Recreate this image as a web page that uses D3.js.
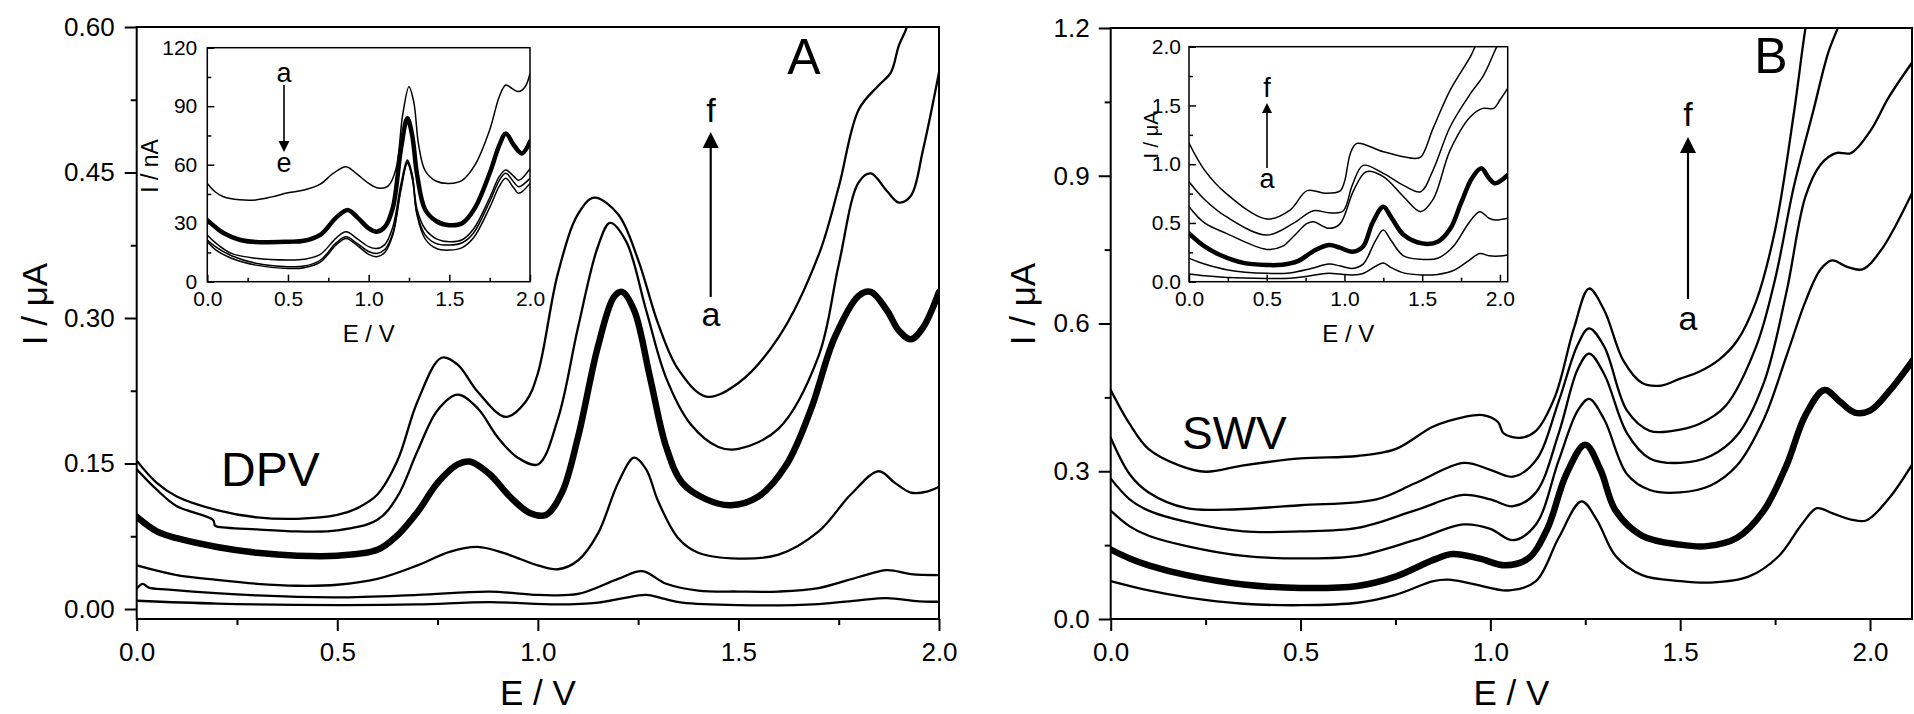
<!DOCTYPE html>
<html>
<head>
<meta charset="utf-8">
<script src="https://cdn.jsdelivr.net/npm/d3@7"></script>
<style>
  html, body { margin: 0; padding: 0; background: #fff; }
  svg { display: block; }
  text { font-family: "Liberation Sans", Arial, Helvetica, sans-serif; fill: #000; }
</style>
</head>
<body>
<svg id="fig" width="1914" height="714"></svg>
<script>
// ---------------- Panel A: DPV, I / µA vs E / V, curves a..f ----------------
const dpvA = [[0,0.0085],[0.2,0.0056],[0.5,0.004],[0.7,0.0047],[0.88,0.007],[1.05,0.0047],[1.15,0.0066],[1.21,0.011],[1.27,0.0145],[1.31,0.011],[1.36,0.0066],[1.5,0.004],[1.7,0.005],[1.8,0.009],[1.87,0.0113],[1.95,0.0078],[2.0,0.0075]];
const dpvB = [[0,0.021],[0.015,0.026],[0.03,0.022],[0.08,0.02],[0.3,0.014],[0.5,0.012],[0.7,0.0146],[0.88,0.018],[1.0,0.0146],[1.1,0.0155],[1.2,0.031],[1.26,0.039],[1.32,0.026],[1.4,0.019],[1.5,0.018],[1.6,0.018],[1.7,0.0216],[1.8,0.033],[1.87,0.040],[1.93,0.036],[2.0,0.035]];
const dpvC = [[0,0.045],[0.1,0.035],[0.2,0.030],[0.3,0.026],[0.4,0.024],[0.5,0.025],[0.6,0.031],[0.7,0.045],[0.78,0.059],[0.85,0.064],[0.92,0.057],[1.0,0.045],[1.05,0.041],[1.1,0.05],[1.15,0.078],[1.2,0.13],[1.24,0.156],[1.27,0.144],[1.3,0.111],[1.35,0.073],[1.4,0.058],[1.5,0.052],[1.6,0.056],[1.7,0.08],[1.78,0.118],[1.85,0.142],[1.89,0.13],[1.93,0.12],[1.97,0.121],[2.0,0.126]];
const dpvD = [[0,0.095],[0.05,0.080],[0.1,0.073],[0.2,0.064],[0.3,0.058],[0.4,0.055],[0.5,0.055],[0.6,0.061],[0.65,0.076],[0.7,0.10],[0.75,0.13],[0.8,0.149],[0.83,0.152],[0.88,0.139],[0.93,0.116],[0.98,0.099],[1.02,0.097],[1.06,0.12],[1.1,0.177],[1.15,0.271],[1.19,0.322],[1.21,0.327],[1.24,0.308],[1.28,0.238],[1.32,0.167],[1.36,0.130],[1.42,0.113],[1.48,0.107],[1.55,0.116],[1.62,0.149],[1.68,0.205],[1.74,0.280],[1.8,0.323],[1.83,0.327],[1.87,0.308],[1.9,0.287],[1.93,0.278],[1.96,0.290],[2.0,0.327]];
const dpvE = [[0,0.144],[0.05,0.123],[0.1,0.106],[0.19,0.092],[0.195,0.086],[0.2,0.085],[0.3,0.082],[0.4,0.080],[0.5,0.081],[0.6,0.092],[0.65,0.116],[0.7,0.163],[0.75,0.205],[0.8,0.221],[0.85,0.207],[0.9,0.177],[0.95,0.156],[1.0,0.149],[1.05,0.196],[1.1,0.29],[1.15,0.374],[1.18,0.398],[1.22,0.379],[1.27,0.308],[1.32,0.238],[1.38,0.191],[1.45,0.167],[1.5,0.165],[1.6,0.186],[1.7,0.261],[1.75,0.355],[1.8,0.44],[1.83,0.449],[1.87,0.431],[1.9,0.419],[1.93,0.426],[1.96,0.473],[2.0,0.553]];
const dpvF = [[0,0.153],[0.05,0.130],[0.1,0.116],[0.2,0.102],[0.3,0.0945],[0.4,0.093],[0.5,0.097],[0.55,0.104],[0.6,0.118],[0.65,0.153],[0.7,0.214],[0.76,0.259],[0.8,0.252],[0.85,0.224],[0.92,0.198],[0.97,0.214],[1.0,0.243],[1.05,0.346],[1.1,0.407],[1.14,0.424],[1.2,0.407],[1.25,0.360],[1.3,0.294],[1.35,0.247],[1.42,0.219],[1.5,0.233],[1.6,0.280],[1.7,0.365],[1.75,0.435],[1.8,0.515],[1.85,0.540],[1.88,0.553],[1.9,0.581],[1.92,0.600],[1.94,0.64]];
const dpvSeries = [dpvA, dpvB, dpvC, dpvD, dpvE, dpvF];
const dpvYTicks = [0, 0.15, 0.30, 0.45, 0.60];
const dpvYLabels = ["0.00", "0.15", "0.30", "0.45", "0.60"];

// Panel A inset: I / nA vs E / V, curves a..e
const dpvInA = [[0,50.4],[0.05,46],[0.1,43.6],[0.2,42],[0.3,41.9],[0.4,43.5],[0.5,45.6],[0.6,47],[0.7,50],[0.78,55.5],[0.86,59],[0.93,55],[1.0,50.4],[1.06,48],[1.12,49],[1.17,58],[1.21,85],[1.25,100],[1.28,92],[1.31,70],[1.35,57],[1.42,51.5],[1.5,50.4],[1.58,52],[1.66,60],[1.75,77.8],[1.81,95],[1.85,100.9],[1.89,99],[1.93,97.5],[1.97,100],[2.0,106.8]];
const dpvInB = [[0,31.6],[0.05,28],[0.1,25],[0.2,21.5],[0.3,20.3],[0.5,20.5],[0.6,21],[0.7,24],[0.8,33],[0.87,36.8],[0.93,33],[1.0,27.4],[1.05,25.6],[1.1,28],[1.15,38],[1.2,68],[1.24,83.8],[1.27,75],[1.3,55],[1.35,37],[1.42,31],[1.5,29],[1.58,30],[1.66,38],[1.75,55.6],[1.81,70],[1.85,76],[1.9,70],[1.95,65.8],[2.0,71.8]];
const dpvInC = [[0,24],[0.05,20],[0.15,14.5],[0.3,12],[0.5,11.1],[0.6,11.5],[0.7,14],[0.8,22.5],[0.86,25.6],[0.93,22],[1.0,18],[1.05,17],[1.1,19],[1.15,28],[1.2,50],[1.24,62.4],[1.27,55],[1.3,37],[1.35,27],[1.42,22],[1.5,20.5],[1.58,21.5],[1.65,27],[1.75,43],[1.81,54],[1.85,57.3],[1.9,54],[1.93,52],[2.0,58]];
const dpvInD = [[0,21.4],[0.05,18],[0.15,13.3],[0.3,9.5],[0.5,7.7],[0.6,8],[0.7,11],[0.8,20],[0.86,23],[0.93,19.5],[1.0,15.5],[1.05,14.5],[1.1,16.5],[1.15,25],[1.2,48],[1.24,61.5],[1.27,54],[1.3,35],[1.35,24],[1.42,19.5],[1.5,18.8],[1.58,20],[1.65,25],[1.75,41],[1.81,52],[1.85,55.6],[1.9,51],[1.93,48.7],[2.0,53]];
const dpvInE = [[0,20.5],[0.05,16.5],[0.15,12],[0.3,8.5],[0.5,6.8],[0.6,7.2],[0.7,10],[0.8,19],[0.86,22.2],[0.93,18.5],[1.0,14],[1.05,12.8],[1.1,15],[1.15,24],[1.2,47],[1.24,60.7],[1.27,53],[1.3,34],[1.35,22],[1.42,17],[1.5,16.2],[1.58,17.5],[1.65,22.5],[1.75,38],[1.81,49],[1.85,53],[1.9,48],[1.93,45.3],[2.0,50.4]];
const dpvInSeries = [dpvInA, dpvInB, dpvInC, dpvInD, dpvInE];
const dpvInYTicks = [0, 30, 60, 90, 120];
const dpvInYLabels = ["0", "30", "60", "90", "120"];

// ---------------- Panel B: SWV, I / µA vs E / V, curves a..f ----------------
const swvA = [[0,0.077],[0.1,0.058],[0.2,0.044],[0.35,0.031],[0.5,0.028],[0.65,0.033],[0.75,0.049],[0.85,0.077],[0.89,0.08],[0.95,0.072],[1.05,0.058],[1.12,0.077],[1.18,0.165],[1.24,0.239],[1.28,0.202],[1.33,0.128],[1.4,0.089],[1.5,0.077],[1.58,0.074],[1.68,0.086],[1.76,0.128],[1.82,0.192],[1.86,0.225],[1.9,0.215],[1.95,0.202],[1.99,0.20],[2.05,0.245],[2.12,0.325]];
const swvB = [[0,0.141],[0.05,0.123],[0.1,0.109],[0.2,0.089],[0.35,0.07],[0.5,0.063],[0.65,0.067],[0.75,0.086],[0.85,0.12],[0.9,0.132],[0.97,0.123],[1.04,0.109],[1.1,0.123],[1.15,0.183],[1.2,0.294],[1.25,0.354],[1.29,0.303],[1.33,0.22],[1.4,0.169],[1.5,0.151],[1.57,0.148],[1.65,0.165],[1.72,0.22],[1.78,0.312],[1.83,0.414],[1.88,0.465],[1.92,0.442],[1.96,0.419],[2.0,0.423],[2.05,0.462],[2.12,0.533]];
const swvC = [[0,0.22],[0.05,0.188],[0.1,0.169],[0.2,0.148],[0.35,0.128],[0.5,0.123],[0.65,0.128],[0.8,0.16],[0.93,0.192],[1.0,0.183],[1.06,0.16],[1.12,0.192],[1.18,0.322],[1.23,0.423],[1.26,0.447],[1.3,0.405],[1.36,0.294],[1.42,0.262],[1.5,0.257],[1.58,0.271],[1.65,0.312],[1.72,0.405],[1.78,0.534],[1.83,0.645],[1.87,0.71],[1.9,0.728],[1.94,0.715],[1.98,0.71],[2.03,0.75],[2.12,0.88]];
const swvD = [[0,0.285],[0.05,0.243],[0.1,0.22],[0.2,0.197],[0.35,0.178],[0.5,0.178],[0.65,0.185],[0.8,0.22],[0.93,0.252],[1.0,0.243],[1.06,0.229],[1.12,0.257],[1.18,0.377],[1.23,0.507],[1.26,0.539],[1.3,0.497],[1.36,0.377],[1.42,0.326],[1.5,0.317],[1.58,0.331],[1.65,0.373],[1.72,0.479],[1.78,0.664],[1.83,0.858],[1.87,0.923],[1.91,0.946],[1.95,0.946],[2.0,0.99],[2.05,1.06],[2.12,1.14]];
const swvE = [[0,0.368],[0.05,0.294],[0.1,0.257],[0.2,0.225],[0.3,0.222],[0.5,0.231],[0.7,0.243],[0.8,0.275],[0.93,0.317],[1.0,0.303],[1.06,0.289],[1.12,0.322],[1.18,0.442],[1.23,0.557],[1.26,0.59],[1.3,0.553],[1.36,0.423],[1.42,0.382],[1.48,0.382],[1.55,0.396],[1.62,0.433],[1.7,0.553],[1.75,0.69],[1.8,0.88],[1.85,1.03],[1.89,1.15],[1.92,1.21],[1.94,1.26]];
const swvF = [[0,0.465],[0.05,0.396],[0.1,0.345],[0.18,0.312],[0.25,0.299],[0.35,0.312],[0.5,0.326],[0.65,0.331],[0.75,0.345],[0.85,0.391],[0.93,0.41],[0.98,0.414],[1.02,0.40],[1.035,0.377],[1.08,0.368],[1.12,0.382],[1.17,0.451],[1.22,0.59],[1.26,0.671],[1.3,0.627],[1.35,0.525],[1.4,0.479],[1.45,0.474],[1.5,0.488],[1.55,0.502],[1.6,0.525],[1.65,0.565],[1.7,0.645],[1.75,0.79],[1.8,1.03],[1.83,1.2],[1.86,1.33]];
const swvSeries = [swvA, swvB, swvC, swvD, swvE, swvF];
const swvYTicks = [0, 0.3, 0.6, 0.9, 1.2];
const swvYLabels = ["0.0", "0.3", "0.6", "0.9", "1.2"];

// Panel B inset: I / µA vs E / V, curves a..f
const swvInA = [[0,0.065],[0.1,0.05],[0.25,0.035],[0.5,0.028],[0.65,0.03],[0.75,0.045],[0.85,0.066],[0.9,0.071],[0.97,0.065],[1.05,0.058],[1.12,0.07],[1.2,0.13],[1.25,0.16],[1.3,0.12],[1.38,0.075],[1.5,0.057],[1.6,0.062],[1.7,0.095],[1.8,0.18],[1.87,0.24],[1.93,0.22],[2.0,0.218],[2.05,0.227]];
const swvInB = [[0,0.2],[0.1,0.15],[0.25,0.1],[0.5,0.071],[0.65,0.075],[0.78,0.11],[0.9,0.15],[0.97,0.135],[1.05,0.113],[1.12,0.15],[1.2,0.35],[1.25,0.44],[1.3,0.35],[1.38,0.22],[1.5,0.19],[1.6,0.2],[1.7,0.3],[1.8,0.5],[1.87,0.596],[1.93,0.54],[1.97,0.525],[2.05,0.54]];
const swvInC = [[0,0.411],[0.1,0.3],[0.2,0.227],[0.35,0.16],[0.5,0.142],[0.6,0.145],[0.7,0.175],[0.8,0.26],[0.9,0.312],[0.97,0.29],[1.05,0.255],[1.12,0.3],[1.18,0.5],[1.25,0.638],[1.3,0.55],[1.38,0.4],[1.5,0.326],[1.6,0.34],[1.68,0.45],[1.75,0.67],[1.82,0.88],[1.88,0.965],[1.93,0.88],[1.97,0.837],[2.05,0.908]];
const swvInD = [[0,0.638],[0.1,0.5],[0.24,0.411],[0.5,0.275],[0.6,0.3],[0.67,0.383],[0.76,0.496],[0.8,0.51],[0.9,0.454],[0.97,0.49],[1.06,0.78],[1.14,0.936],[1.25,0.894],[1.38,0.723],[1.49,0.596],[1.57,0.7],[1.68,1.12],[1.81,1.404],[1.89,1.475],[1.96,1.475],[2.0,1.546],[2.05,1.645]];
const swvInE = [[0,0.851],[0.1,0.7],[0.24,0.553],[0.5,0.397],[0.67,0.496],[0.8,0.604],[0.9,0.587],[0.99,0.6],[1.05,0.82],[1.12,0.99],[1.25,0.922],[1.38,0.82],[1.49,0.766],[1.57,0.95],[1.68,1.319],[1.81,1.6],[1.89,1.745],[1.98,2.0],[2.02,2.1]];
const swvInF = [[0,1.18],[0.1,0.95],[0.24,0.75],[0.5,0.533],[0.65,0.61],[0.76,0.775],[0.88,0.752],[0.97,0.77],[1.0,0.85],[1.04,1.1],[1.08,1.177],[1.25,1.106],[1.44,1.05],[1.49,1.06],[1.57,1.305],[1.68,1.63],[1.81,1.915],[1.84,2.0],[1.87,2.08]];
const swvInSeries = [swvInA, swvInB, swvInC, swvInD, swvInE, swvInF];
const swvInYTicks = [0, 0.5, 1.0, 1.5, 2.0];
const swvInYLabels = ["0.0", "0.5", "1.0", "1.5", "2.0"];

// Shared potential axis
const eTicks = [0, 0.5, 1.0, 1.5, 2.0];
const eLabels = ["0.0", "0.5", "1.0", "1.5", "2.0"];
const eMinor = [0.25, 0.75, 1.25, 1.75];

// ---------------------------------------------------------------------------
const svg = d3.select("#fig");
const defs = svg.append("defs");

function drawPlot(o) {
  const x = d3.scaleLinear().domain(o.xDomain).range(o.xRange);
  const y = d3.scaleLinear().domain(o.yDomain).range(o.yRange);
  const left = o.xRange[0], right = o.xRange[1], top = o.yRange[1], bottom = o.yRange[0];
  const g = svg.append("g");

  g.append("rect").attr("x", left).attr("y", top)
    .attr("width", right - left).attr("height", bottom - top).attr("fill", "#fff");

  defs.append("clipPath").attr("id", "clip-" + o.id).append("rect")
    .attr("x", left).attr("y", top).attr("width", right - left).attr("height", bottom - top);

  const line = d3.line().x(d => x(d[0])).y(d => y(d[1])).curve(d3.curveCatmullRom.alpha(0.5));
  g.append("g").attr("clip-path", `url(#clip-${o.id})`)
    .selectAll("path").data(o.series).join("path")
    .attr("d", line).attr("fill", "none").attr("stroke", "#000")
    .attr("stroke-width", (d, i) => i === o.bold ? o.boldWidth : o.thinWidth)
    .attr("stroke-linejoin", "round").attr("stroke-linecap", "round");

  const dir = o.inward ? -1 : 1;
  const styleAxis = (sel, fs) => {
    sel.select(".domain").remove();
    sel.attr("font-size", fs).attr("font-family", null);
    sel.selectAll("line").attr("stroke", "#000").attr("stroke-width", o.axisWidth);
    sel.selectAll("text").attr("fill", "#000");
  };

  // x axis (major + minor)
  const gx = g.append("g").attr("transform", `translate(0,${bottom})`)
    .call(d3.axisBottom(x).tickValues(eTicks).tickFormat((d, i) => eLabels[i])
      .tickSizeInner(dir * o.major).tickSizeOuter(0).tickPadding(o.xPad));
  styleAxis(gx, o.tickFont);
  const gxm = g.append("g").attr("transform", `translate(0,${bottom})`)
    .call(d3.axisBottom(x).tickValues(eMinor).tickFormat("")
      .tickSizeInner(dir * o.minor).tickSizeOuter(0));
  styleAxis(gxm, o.tickFont);

  // y axis (major + minor)
  const gy = g.append("g").attr("transform", `translate(${left},0)`)
    .call(d3.axisLeft(y).tickValues(o.yTicks).tickFormat((d, i) => o.yLabels[i])
      .tickSizeInner(dir * o.major).tickSizeOuter(0).tickPadding(o.yPad));
  styleAxis(gy, o.tickFont);
  const yMinor = o.yTicks.slice(0, -1).map((v, i) => (v + o.yTicks[i + 1]) / 2);
  const gym = g.append("g").attr("transform", `translate(${left},0)`)
    .call(d3.axisLeft(y).tickValues(yMinor).tickFormat("")
      .tickSizeInner(dir * o.minor).tickSizeOuter(0));
  styleAxis(gym, o.tickFont);

  // frame
  g.append("rect").attr("x", left).attr("y", top)
    .attr("width", right - left).attr("height", bottom - top)
    .attr("fill", "none").attr("stroke", "#000").attr("stroke-width", o.axisWidth);

  // axis titles
  g.append("text").attr("x", (left + right) / 2).attr("y", o.xTitleY)
    .attr("text-anchor", "middle").attr("font-size", o.titleFont).text("E / V");
  g.append("text").attr("transform", `translate(${o.yTitleX},${o.yTitleY}) rotate(-90)`)
    .attr("text-anchor", "middle").attr("font-size", o.yTitleFont || o.titleFont).text(o.yTitle);
}

function label(x, y, size, str, anchor) {
  svg.append("text").attr("x", x).attr("y", y).attr("font-size", size)
    .attr("text-anchor", anchor || "middle").text(str);
}

function arrow(x, y0, y1, headLen, headW, w) {
  // shaft from y0 to the base of the head, head tip at y1
  const dirn = Math.sign(y1 - y0);
  const base = y1 - dirn * headLen;
  svg.append("line").attr("x1", x).attr("x2", x).attr("y1", y0).attr("y2", base)
    .attr("stroke", "#000").attr("stroke-width", w);
  svg.append("path").attr("d", `M${x - headW / 2},${base}L${x + headW / 2},${base}L${x},${y1}Z`)
    .attr("fill", "#000");
}

// ---- Panel A (DPV) ----
drawPlot({
  id: "dpv", series: dpvSeries, bold: 3, thinWidth: 2.3, boldWidth: 6.5,
  xDomain: [0, 2.0], xRange: [136.7, 939],
  yDomain: [-0.0103, 0.6], yRange: [619, 27],
  yTicks: dpvYTicks, yLabels: dpvYLabels,
  inward: false, major: 12, minor: 6, xPad: 12, yPad: 10, axisWidth: 2,
  tickFont: 26, titleFont: 35, xTitleY: 705, yTitleX: 47, yTitleY: 304, yTitle: "I / \u03BCA"
});
drawPlot({
  id: "dpvIn", series: dpvInSeries, bold: 1, thinWidth: 1.5, boldWidth: 4.5,
  xDomain: [0, 2.0], xRange: [207.3, 530],
  yDomain: [0, 120], yRange: [281.7, 47.7],
  yTicks: dpvInYTicks, yLabels: dpvInYLabels,
  inward: true, major: 7, minor: 4, xPad: 9, yPad: 10, axisWidth: 1.5,
  tickFont: 21, titleFont: 24, yTitleFont: 23, xTitleY: 342, yTitleX: 158, yTitleY: 166, yTitle: "I / nA"
});

// ---- Panel B (SWV) ----
drawPlot({
  id: "swv", series: swvSeries, bold: 1, thinWidth: 2.3, boldWidth: 6.5,
  xDomain: [0, 2.1106], xRange: [1110.7, 1912],
  yDomain: [0, 1.2], yRange: [619, 28],
  yTicks: swvYTicks, yLabels: swvYLabels,
  inward: false, major: 12, minor: 6, xPad: 12, yPad: 9, axisWidth: 2,
  tickFont: 26, titleFont: 35, xTitleY: 705, yTitleX: 1035, yTitleY: 304, yTitle: "I / \u03BCA"
});
drawPlot({
  id: "swvIn", series: swvInSeries, bold: 2, thinWidth: 1.5, boldWidth: 4.5,
  xDomain: [0, 2.05], xRange: [1189, 1507.7],
  yDomain: [0, 2.0], yRange: [281.7, 46.7],
  yTicks: swvInYTicks, yLabels: swvInYLabels,
  inward: true, major: 7, minor: 4, xPad: 9, yPad: 8, axisWidth: 1.5,
  tickFont: 21, titleFont: 24, yTitleFont: 20, xTitleY: 342, yTitleX: 1158, yTitleY: 135, yTitle: "I / \u03BCA"
});

// ---- Panel letters, technique names and a→f arrows ----
label(804, 74, 50, "A");
label(1771, 73, 50, "B");
label(221, 486, 48, "DPV", "start");
label(1182, 449, 46, "SWV", "start");

arrow(710.7, 297, 132, 16, 16, 2.2);
label(711, 122, 34, "f");
label(711, 326, 34, "a");

arrow(1688, 299, 137, 16, 16, 2.2);
label(1688, 126, 34, "f");
label(1688, 330, 34, "a");

arrow(284, 85, 152, 11, 11, 1.6);
label(284, 82, 27, "a");
label(284, 172, 27, "e");

arrow(1267, 168, 103, 10, 10, 1.6);
label(1267, 97, 27, "f");
label(1267, 188, 27, "a");
</script>
</body>
</html>
